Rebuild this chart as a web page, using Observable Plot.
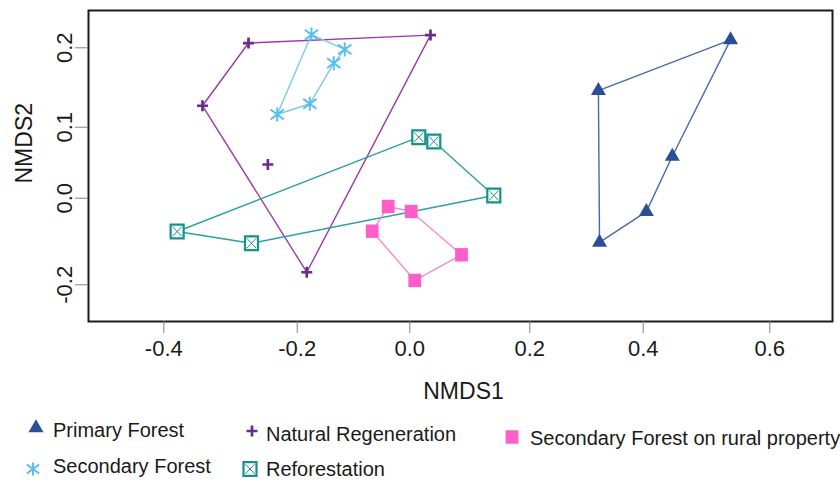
<!DOCTYPE html>
<html><head><meta charset="utf-8">
<script src="https://cdn.jsdelivr.net/npm/d3@7"></script>
<script src="https://cdn.jsdelivr.net/npm/@observablehq/plot@0.6"></script>
<style>
body{margin:0;background:#fff;font-family:Arial,"Liberation Sans",sans-serif;}
#chart{width:840px;height:483px;position:relative;overflow:hidden;background:#fff}
.leg{position:absolute;font-size:20px;line-height:24px;color:#1a1a1a;white-space:nowrap}
.sym{position:absolute;overflow:visible}
</style></head><body><div id="chart"></div>
<script>
// ---- data (NMDS scores, hull order first; hull flag 0 = interior point) ----
const groups = ["Primary Forest","Natural Regeneration","Secondary Forest on rural property","Secondary Forest","Reforestation"];
const primaryX = [0.538, 0.321, 0.323, 0.405, 0.446];
const primaryY = [0.210, 0.146, -0.102, -0.031, 0.059];
const primaryHull = [1,1,1,1,1];
const naturalX = [-0.273, 0.0345, -0.183, -0.342, -0.244];
const naturalY = [0.206, 0.216, -0.171, 0.127, 0.0475];
const naturalHull = [1,1,1,1,0];
const secondaryX = [-0.1746, -0.1155, -0.135, -0.1776, -0.230];
const secondaryY = [0.2167, 0.198, 0.1806, 0.1295, 0.116];
const secondaryHull = [1,1,1,1,1];
const reforestX = [0.015, 0.04, 0.14, -0.2685, -0.38];
const reforestY = [0.0859, 0.0799, 0.0038, -0.104, -0.0769];
const reforestHull = [1,1,1,1,1];
const ruralX = [-0.0384, 0.0023, 0.0862, 0.0083, -0.0668];
const ruralY = [-0.0192, -0.0307, -0.1307, -0.19, -0.0762];
const ruralHull = [1,1,1,1,1];
const xTicks = [-0.4, -0.2, 0, 0.2, 0.4, 0.6];
const yTicks = [-0.2, 0, 0.1, 0.2];
const xLabel = "NMDS1", yLabel = "NMDS2";

// ---- calibration of the original figure's axes (its ticks are not evenly spaced) ----
const xTickPx = [163.3, 296.7, 409.3, 529.3, 642.7, 769.3];
const yTickPx = [284.3, 197.7, 126.7, 47.3];
const xCal = d3.scaleLinear().domain(xTicks).range(xTickPx);
const yCal = d3.scaleLinear().domain(yTicks).range(yTickPx);

const W = 840, H = 410, mT = 10, mL = 88, mR = 8, mB = 89;

// ---- custom symbols (r = half extent) ----
const R = s => Math.sqrt(s / Math.PI);
const triSym = {draw(c, s){const w=R(s); c.moveTo(0,-w*1.1547); c.lineTo(w,w*0.5774); c.lineTo(-w,w*0.5774); c.closePath();}};
const plusSym = {draw(c, s){const r=R(s); c.moveTo(-r,0); c.lineTo(r,0); c.moveTo(0,-r); c.lineTo(0,r);}};
const starSym = {draw(c, s){const r=R(s); c.moveTo(0,-r); c.lineTo(0,r); c.moveTo(-r*0.95,-r*0.7); c.lineTo(r*0.95,r*0.7); c.moveTo(-r*0.95,r*0.7); c.lineTo(r*0.95,-r*0.7);}};
const sqSym = {draw(c, s){const r=R(s); c.rect(-r,-r*1.05,2*r,2.1*r);}};
const timesSym = {draw(c, s){const r=R(s); c.moveTo(-r,-r*1.05); c.lineTo(r,r*1.05); c.moveTo(-r,r*1.05); c.lineTo(r,-r*1.05);}};

const series = [
  {name: groups[0], xs: primaryX, ys: primaryY, hull: primaryHull, line: "#4a68a8", dots: [{symbol: triSym, r: 7.5, fill: "#2b4f96", stroke: "none"}]},
  {name: groups[1], xs: naturalX, ys: naturalY, hull: naturalHull, line: "#9b3aa6", dots: [{symbol: plusSym, r: 5.5, fill: "none", stroke: "#6a2b8e", strokeWidth: 2.7}]},
  {name: groups[3], xs: secondaryX, ys: secondaryY, hull: secondaryHull, line: "#79c9f0", dots: [{symbol: starSym, r: 7, fill: "none", stroke: "#55bdf0", strokeWidth: 1.9}]},
  {name: groups[4], xs: reforestX, ys: reforestY, hull: reforestHull, line: "#2aa19d", dots: [{symbol: sqSym, r: 6.5, fill: "white", stroke: "#16918c", strokeWidth: 2.2}, {symbol: timesSym, r: 4.6, fill: "none", stroke: "#16918c", strokeWidth: 1}]},
  {name: groups[2], xs: ruralX, ys: ruralY, hull: ruralHull, line: "#f08cd6", dots: [{symbol: sqSym, r: 6.4, fill: "#fd5ec8", stroke: "none"}]}
];

const rows = series.flatMap(s => s.xs.map((x, i) => ({group: s.name, x, y: s.ys[i], hull: s.hull[i]})));

const marks = [];
for (const s of series) {
  const pts = rows.filter(d => d.group === s.name && d.hull);
  marks.push(Plot.line(pts, {x: "x", y: "y", curve: "linear-closed", stroke: s.line, strokeWidth: 1.4}));
}
for (const s of series) {
  const pts = rows.filter(d => d.group === s.name);
  for (const d of s.dots) marks.push(Plot.dot(pts, {x: "x", y: "y", ...d}));
}
const fmt = d => d.toFixed(1);
marks.push(
  Plot.frame({stroke: "#1a1a1a", strokeWidth: 2}),
  Plot.axisX(xTicks, {tickSize: 12, tickPadding: 7, fontSize: 22, stroke: "#808080", fill: "#1a1a1a", tickFormat: fmt, label: null}),
  Plot.axisY(yTicks, {tickSize: 13, tickPadding: 4, tickRotate: -90, fontSize: 22, stroke: "#808080", fill: "#1a1a1a", tickFormat: fmt, label: null}),
  Plot.text([xLabel], {frameAnchor: "bottom", text: d => d, dx: 3, dy: 70, lineAnchor: "middle", fontSize: 23, fill: "#1a1a1a"}),
  Plot.text([yLabel], {frameAnchor: "left", text: d => d, rotate: -90, dx: -64, dy: 17.5, lineAnchor: "middle", fontSize: 23, fill: "#1a1a1a"})
);

const chart = Plot.plot({
  width: W, height: H,
  marginTop: mT, marginLeft: mL, marginRight: mR, marginBottom: mB,
  x: {type: "linear", transform: xCal, domain: [mL, W - mR]},
  y: {type: "linear", transform: yCal, domain: [H - mB, mT]},
  style: {fontFamily: "Arial, 'Liberation Sans', sans-serif", background: "white", overflow: "visible"},
  marks
});
const root = document.getElementById("chart");
root.appendChild(chart);

// ---- legend (below the SVG) ----
const legendItems = [
  {label: groups[0], s: series[0], sx: 36, sy: 428, tx: 53, ty: 430, r: 7.5},
  {label: groups[1], s: series[1], sx: 252, sy: 431, tx: 266, ty: 434, r: 5.5},
  {label: groups[2], s: series[4], sx: 512, sy: 437, tx: 530, ty: 438, r: 6.4},
  {label: groups[3], s: series[2], sx: 33, sy: 469, tx: 53, ty: 466, r: 6.5},
  {label: groups[4], s: series[3], sx: 250, sy: 469, tx: 266, ty: 469, r: 6.5}
];
for (const it of legendItems) {
  const svg = d3.create("svg").attr("class", "sym").attr("width", 24).attr("height", 24)
    .style("left", (it.sx - 12) + "px").style("top", (it.sy - 12) + "px");
  const scaleR = it.r / it.s.dots[0].r;
  for (const d of it.s.dots) {
    const rr = d.r * scaleR;
    svg.append("path").attr("transform", "translate(12,12)")
      .attr("d", d3.symbol(d.symbol, Math.PI * rr * rr)())
      .attr("fill", d.fill).attr("stroke", d.stroke).attr("stroke-width", d.strokeWidth || 0);
  }
  root.appendChild(svg.node());
  const span = document.createElement("div");
  span.className = "leg";
  span.textContent = it.label;
  span.style.left = it.tx + "px";
  span.style.top = (it.ty - 11.8) + "px";
  root.appendChild(span);
}
</script>
</body></html>
